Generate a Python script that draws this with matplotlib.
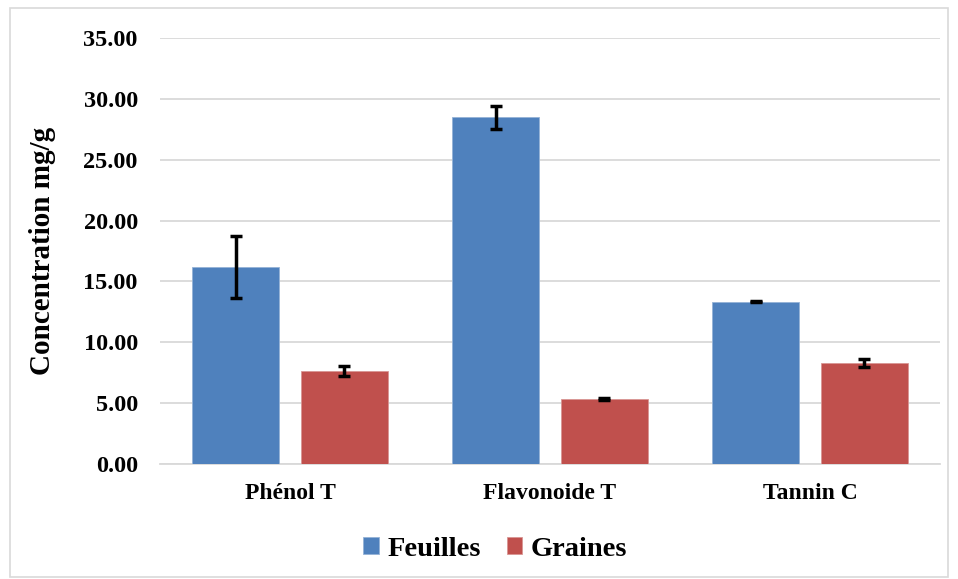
import numpy as np
import matplotlib
matplotlib.use("Agg")
import matplotlib.pyplot as plt
from matplotlib.patches import Rectangle

# data
categories = ['Phénol T', 'Flavonoide T', 'Tannin C']
feuilles = [16.19, 28.50, 13.34]
feuilles_err = [2.57, 0.95, 0.06]
graines = [7.66, 5.36, 8.30]
graines_err = [0.40, 0.10, 0.33]
yticks = np.arange(0, 36, 5)

plt.rcParams['font.family'] = ['Liberation Serif', 'DejaVu Serif']
plt.rcParams['font.weight'] = 'bold'

fig = plt.figure(figsize=(9.58, 5.79), dpi=100)
ax = fig.add_axes([160/958, 1 - 464/579, 780/958, (464 - 38)/579])

x = np.arange(len(categories))
w = 0.333
off = 0.209
err_kw = dict(ecolor='black', elinewidth=2.5, capsize=4.5, capthick=2.5)
ax.bar(x - off, feuilles, w, yerr=feuilles_err, color='#4f81bd',
       edgecolor='#95b3d7', linewidth=0.6, label='Feuilles', error_kw=err_kw, zorder=3)
ax.bar(x + off, graines, w, yerr=graines_err, color='#c0504d',
       edgecolor='#d99694', linewidth=0.6, label='Graines', error_kw=err_kw, zorder=3)

ax.set_xlim(-0.5, 2.5)
ax.set_ylim(0, 35)
ax.set_yticks(yticks)
ax.set_yticklabels(['%.2f' % v for v in yticks])
ax.set_xticks(x)
ax.set_xticklabels(categories)
ax.tick_params(axis='y', length=0, pad=16, labelsize=17.5)
ax.tick_params(axis='x', length=0, pad=14, labelsize=17)
ax.yaxis.grid(True, color='#d9d9d9', linewidth=1.3, zorder=0)
ax.set_axisbelow(True)
for s in ['top', 'right', 'left']:
    ax.spines[s].set_visible(False)
ax.spines['bottom'].set_color('#d9d9d9')
ax.spines['bottom'].set_linewidth(1.3)
ax.set_ylabel('Concentration mg/g', fontsize=21, fontweight='bold', va='center')
ax.yaxis.set_label_coords(-0.151, 0.5)

fig.legend(loc='center', bbox_to_anchor=(0.517, 1 - 549/579), ncol=2, frameon=False,
           prop={'size': 20.5, 'weight': 'bold'}, handlelength=0.55, handleheight=0.55,
           handletextpad=0.3, columnspacing=0.9)

# outer chart border
fig.patches.append(Rectangle((10/958, 2/579), 938/958, 569/579, transform=fig.transFigure,
                             fill=False, edgecolor='#d9d9d9', linewidth=1.2))

fig.savefig('out.png', dpi=100)
